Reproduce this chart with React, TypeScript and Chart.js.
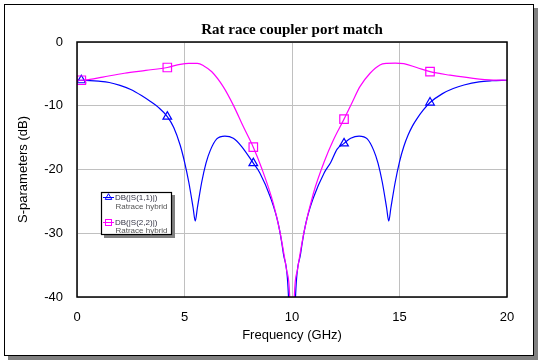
import { useEffect, useRef } from 'react';
import { Chart, registerables } from 'chart.js';

Chart.register(...registerables);

const chartTitle = 'Rat race coupler port match';
const xAxisTitle = 'Frequency (GHz)';
const yAxisTitle = 'S-parameters (dB)';
const xTicks = [0, 5, 10, 15, 20];
const yTicks = [0, -10, -20, -30, -40];

const s11Name = 'DB(|S(1,1)|)';
const s22Name = 'DB(|S(2,2)|)';
const sourceName = 'Ratrace hybrid';

const markerFreqs = [0.2, 4.2, 8.2, 12.42, 16.42];

const s11Freq = [
  0, 0.2, 0.6, 1.0, 1.5, 2.0, 2.5, 3.0, 3.4, 3.8, 4.2, 4.5, 4.8, 5.0, 5.2, 5.4, 5.5, 5.6, 5.8, 6.0,
  6.2, 6.5, 6.88, 7.27, 7.66, 8.2, 8.5, 9.0, 9.36, 9.6, 9.83, 10.0, 10.17, 10.4, 10.64, 11.0, 11.5,
  11.8, 12.1, 12.42, 12.73, 13.12, 13.5, 13.8, 14.0, 14.2, 14.4, 14.5, 14.6, 14.8, 15.0, 15.2, 15.4,
  15.6, 15.8, 16.1, 16.42, 17.0, 17.5, 18.0, 18.7, 19.3, 20,
];
const s11Db = [
  -6.0, -6.0, -6.05, -6.15, -6.35, -6.8, -7.45, -8.4, -9.3, -10.3, -11.7, -13.4, -16.2, -18.8, -22.0,
  -26.0, -28.1, -26.0, -22.0, -19.0, -17.0, -15.2, -14.75, -15.1, -16.4, -19.0, -20.5, -24.4, -28.5,
  -33.2, -39.5, -60, -39.5, -33.2, -28.5, -24.4, -20.5, -18.9, -16.8, -15.9, -15.1, -14.75, -15.2,
  -17.0, -19.0, -22.0, -26.0, -28.1, -26.0, -22.0, -18.8, -16.4, -14.6, -13.2, -12.1, -10.7, -9.5,
  -8.1, -7.3, -6.75, -6.25, -6.08, -6.0,
];

const s22Freq = [
  0, 0.2, 0.6, 1.2, 2.2, 3.2, 4.2, 4.8, 5.2, 5.6, 5.9, 6.27, 6.8, 7.27, 7.74, 8.2, 8.59, 9.13, 9.44,
  9.75, 9.9, 10.0, 10.1, 10.25, 10.56, 10.99, 11.53, 11.92, 12.42, 12.78, 13.16, 13.63, 14.09, 14.4,
  14.8, 15.2, 15.8, 16.42, 17.35, 18.43, 19.36, 20,
];
const s22Db = [
  -6.0, -6.0, -5.86, -5.5, -4.9, -4.45, -4.0, -3.5, -3.35, -3.35, -3.75, -4.66, -7.0, -9.9, -13.3,
  -16.5, -19.8, -25.3, -29.8, -35.8, -40.5, -60, -40.5, -35.8, -29.8, -23.8, -18.5, -15.4, -12.1,
  -9.6, -7.0, -4.9, -3.6, -3.35, -3.3, -3.4, -4.0, -4.66, -5.2, -5.7, -5.97, -6.0,
];

const BLUE = '#0000ff';
const MAGENTA = '#ff00ff';
const FONT = '"Liberation Sans", Arial, sans-serif';

function drawTri(ctx: CanvasRenderingContext2D, x: number, y: number, r: number) {
  ctx.beginPath();
  ctx.moveTo(x, y - r);
  ctx.lineTo(x + r * 0.866, y + r / 2);
  ctx.lineTo(x - r * 0.866, y + r / 2);
  ctx.closePath();
  ctx.stroke();
}

const framePlugin = {
  id: 'frame',
  beforeDraw(chart: any) {
    const ctx = chart.ctx as CanvasRenderingContext2D;
    ctx.save();
    ctx.fillStyle = '#ffffff';
    ctx.fillRect(0, 0, chart.width, chart.height);
    ctx.fillStyle = '#808080';
    ctx.fillRect(534, 8, 4, 352);
    ctx.fillRect(8, 356, 530, 4);
    ctx.strokeStyle = '#000000';
    ctx.lineWidth = 1;
    ctx.strokeRect(4.5, 4.5, 529, 351);
    ctx.restore();
  },
  afterDraw(chart: any) {
    const ctx = chart.ctx as CanvasRenderingContext2D;
    const a = chart.chartArea;
    ctx.save();
    // plot border
    ctx.strokeStyle = '#000000';
    ctx.lineWidth = 1.5;
    ctx.strokeRect(a.left, a.top, a.right - a.left, a.bottom - a.top);
    // title
    ctx.fillStyle = '#000000';
    ctx.font = 'bold 15px "Liberation Serif", "Times New Roman", serif';
    ctx.textAlign = 'center';
    ctx.textBaseline = 'alphabetic';
    ctx.fillText(chartTitle, (a.left + a.right) / 2, 34);
    // legend
    ctx.fillStyle = '#808080';
    ctx.fillRect(104, 195, 71, 43);
    ctx.fillStyle = '#ffffff';
    ctx.fillRect(101, 192, 71, 43);
    ctx.strokeStyle = '#000000';
    ctx.lineWidth = 1.2;
    ctx.strokeRect(101.5, 192.5, 70, 42);
    ctx.lineWidth = 1;
    // entry 1
    ctx.strokeStyle = BLUE;
    ctx.beginPath();
    ctx.moveTo(103, 197.5);
    ctx.lineTo(114, 197.5);
    ctx.stroke();
    drawTri(ctx, 108.5, 197.5, 3.8);
    // entry 2
    ctx.strokeStyle = MAGENTA;
    ctx.beginPath();
    ctx.moveTo(103, 222.5);
    ctx.lineTo(114, 222.5);
    ctx.stroke();
    ctx.strokeRect(105.5, 219.5, 6, 6);
    ctx.font = `8px ${FONT}`;
    ctx.textAlign = 'left';
    ctx.textBaseline = 'middle';
    ctx.fillStyle = '#333344';
    ctx.fillText(s11Name, 115, 197.5);
    ctx.fillText(s22Name, 115, 222.5);
    ctx.fillStyle = '#555555';
    ctx.fillText(sourceName, 115.5, 206.5);
    ctx.fillText(sourceName, 115.5, 231);
    ctx.restore();
  },
};

export default function App() {
  const ref = useRef<HTMLCanvasElement>(null);
  useEffect(() => {
    if (!ref.current) return;
    const isMarker = (c: any) => c.raw && markerFreqs.includes(c.raw.x);
    const chart = new Chart(ref.current, {
      type: 'line',
      data: {
        datasets: [
          {
            label: s11Name,
            data: s11Freq.map((f, i) => ({ x: f, y: s11Db[i] })),
            borderColor: BLUE,
            borderWidth: 1.2,
            cubicInterpolationMode: 'monotone',
            pointStyle: 'triangle',
            pointRadius: (c: any) => (isMarker(c) ? 5 : 0),
            pointBorderColor: BLUE,
            pointBackgroundColor: 'rgba(0,0,0,0)',
            pointBorderWidth: 1.2,
            pointHoverRadius: 0,
            clip: 0,
            order: 2,
          },
          {
            label: s22Name,
            data: s22Freq.map((f, i) => ({ x: f, y: s22Db[i] })),
            borderColor: MAGENTA,
            borderWidth: 1.2,
            cubicInterpolationMode: 'monotone',
            pointStyle: 'rect',
            pointRadius: (c: any) => (isMarker(c) ? 6 : 0),
            pointBorderColor: MAGENTA,
            pointBackgroundColor: 'rgba(0,0,0,0)',
            pointBorderWidth: 1.2,
            pointHoverRadius: 0,
            clip: 0,
            order: 1,
          },
        ] as any,
      },
      options: {
        animation: false,
        responsive: false,
        devicePixelRatio: 1,
        events: [],
        layout: { padding: { top: 42, right: 33, bottom: 0, left: 0 } },
        plugins: { legend: { display: false }, tooltip: { enabled: false }, title: { display: false } },
        scales: {
          x: {
            type: 'linear',
            min: 0,
            max: 20,
            afterBuildTicks: (s: any) => {
              s.ticks = xTicks.map((v) => ({ value: v }));
            },
            afterFit: (s: any) => {
              s.height = 65;
            },
            ticks: { color: '#000', font: { family: FONT, size: 13 }, padding: 13, maxRotation: 0 },
            grid: { color: '#c0c0c0', drawTicks: false, lineWidth: 1 },
            border: { display: false },
            title: {
              display: true,
              text: xAxisTitle,
              color: '#000',
              font: { family: FONT, size: 13 },
              padding: { top: 0, bottom: 19 },
            },
          },
          y: {
            type: 'linear',
            min: -40,
            max: 0,
            afterBuildTicks: (s: any) => {
              s.ticks = yTicks.map((v) => ({ value: v }));
            },
            afterFit: (s: any) => {
              s.width = 77;
            },
            ticks: { color: '#000', font: { family: FONT, size: 13 }, padding: 14 },
            grid: { color: '#c0c0c0', drawTicks: false, lineWidth: 1 },
            border: { display: false },
            title: {
              display: true,
              text: yAxisTitle,
              color: '#000',
              font: { family: FONT, size: 13 },
              padding: { top: 16, bottom: 0 },
            },
          },
        },
      } as any,
      plugins: [framePlugin],
    });
    return () => chart.destroy();
  }, []);
  return (
    <div style={{ position: 'absolute', left: 0, top: 0, width: 540, height: 362 }}>
      <canvas ref={ref} width={540} height={362} style={{ display: 'block', width: 540, height: 362 }} />
    </div>
  );
}
